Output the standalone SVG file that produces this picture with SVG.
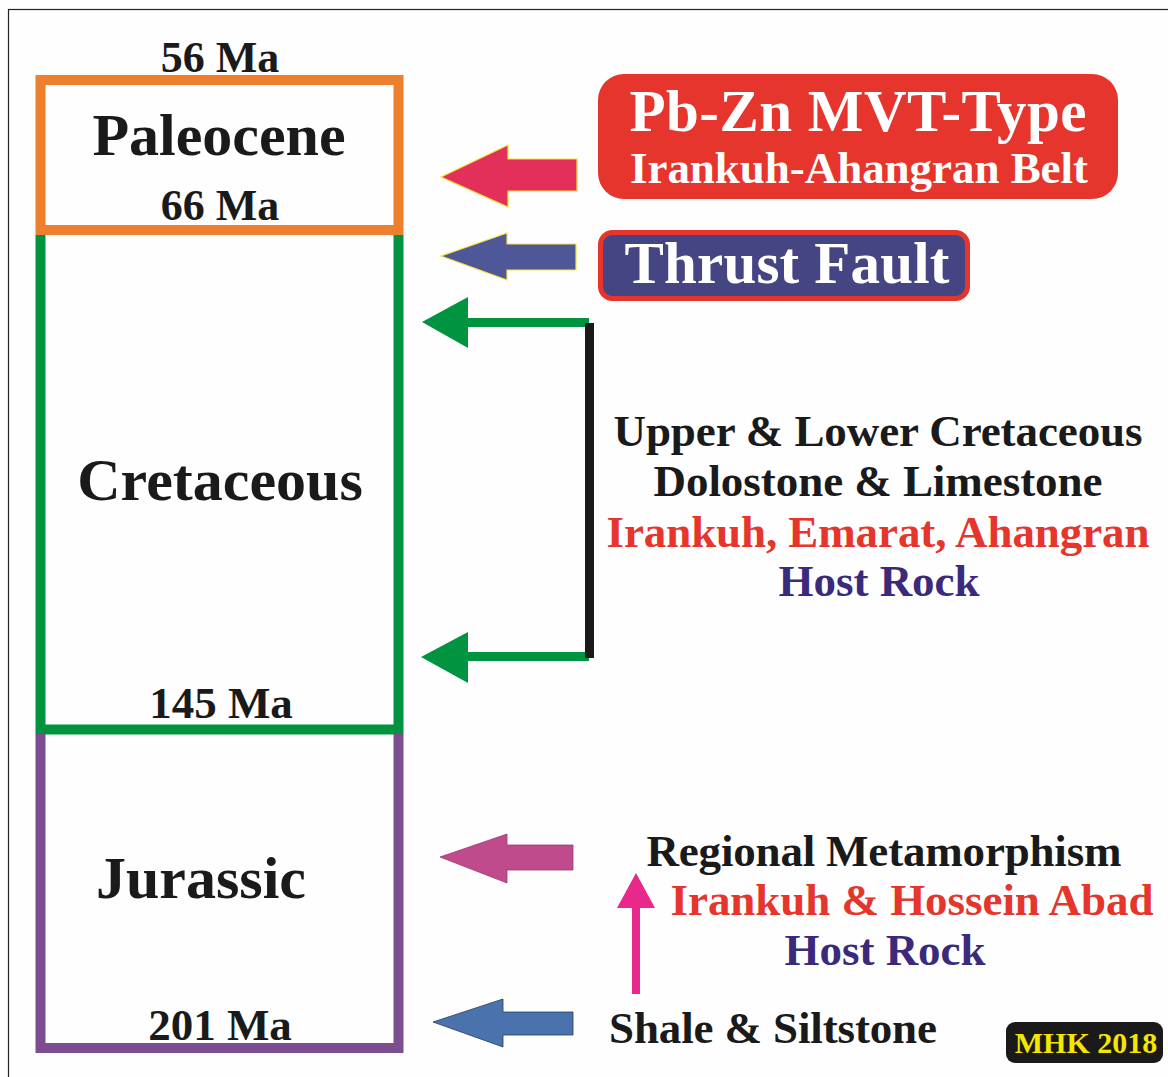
<svg xmlns="http://www.w3.org/2000/svg" width="1168" height="1077" viewBox="0 0 1168 1077">
<style>
text{font-family:"Liberation Serif","Times New Roman",serif;font-weight:bold;}
.blk{fill:#1a1a1a;}
.red{fill:#e5352c;}
.pur{fill:#3b2a7c;}
.mid{text-anchor:middle;}
</style>
<rect x="0" y="0" width="1168" height="1077" fill="#fefefe"/>
<rect x="8.5" y="9.5" width="1170" height="1080" fill="none" stroke="#222" stroke-width="1.2"/>
<g id="periods">
<g id="paleocene">
<path d="M40.5 235 V80 H398.5 V235" fill="none" stroke="#ee7f2f" stroke-width="10"/>
<path d="M36 230 H403" stroke="#ee7f2f" stroke-width="10"/>
<text class="blk mid" x="220" y="72" font-size="44">56 Ma</text>
<text class="blk mid" x="219" y="155" font-size="60">Paleocene</text>
<text class="blk mid" x="220" y="220" font-size="44">66 Ma</text>
</g>
<g id="cretaceous">
<path d="M40.5 235 V729.5 H398.5 V235" fill="none" stroke="#009440" stroke-width="10"/>
<text class="blk mid" x="220" y="500" font-size="60">Cretaceous</text>
<text class="blk mid" x="221" y="718" font-size="45">145 Ma</text>
</g>
<g id="jurassic">
<path d="M40.5 734 V1048 H398.5 V734" fill="none" stroke="#7d4e8f" stroke-width="10"/>
<text class="blk mid" x="201" y="898" font-size="60">Jurassic</text>
<text class="blk mid" x="220" y="1040" font-size="45">201 Ma</text>
</g>
</g>
<g id="connectors">
<polygon points="441,177 508,145 508,159 577,159 577,191 508,191 508,207" fill="#e3305a" stroke="#f5e23a" stroke-width="1.2"/>
<polygon points="441,256 507,233 507,244 576,244 576,270 507,270 507,280" fill="#4e5898" stroke="#f5e23a" stroke-width="1.2"/>
<polygon points="422,322 468,297 468,318 589,318 589,327 468,327 468,348" fill="#009440"/>
<polygon points="421,657 468,632 468,652 589,652 589,661 468,661 468,683" fill="#009440"/>
<rect x="585" y="323" width="9" height="335" fill="#1a1a1a"/>
<polygon points="440,857 507,834 507,845 573,845 573,870 507,870 507,883" fill="#bf4a8c" stroke="#9a3a72" stroke-width="0.8"/>
<polygon points="636,873 655,908 640,908 640,994 632,994 632,908 617,908" fill="#e8288a"/>
<polygon points="433,1022 503,999 503,1012 573,1012 573,1035 503,1035 503,1047" fill="#4a72ac" stroke="#2a3a60" stroke-width="0.8"/>
</g>
<g id="mvt">
<rect x="598" y="74" width="520" height="125" rx="26" fill="#e5352c"/>
<text class="mid" x="858" y="131" font-size="59" fill="#ffffff" textLength="457">Pb-Zn MVT-Type</text>
<text class="mid" x="859" y="183" font-size="45" fill="#ffffff" textLength="458">Irankuh-Ahangran Belt</text>
</g>
<g id="thrust">
<rect x="600.5" y="232.5" width="367" height="66" rx="12" fill="#454584" stroke="#e5352c" stroke-width="5"/>
<text class="mid" x="787" y="283" font-size="59" fill="#ffffff" textLength="325">Thrust Fault</text>
</g>
<g id="hostrock-cretaceous">
<text class="blk mid" x="878" y="446" font-size="45" textLength="529">Upper &amp; Lower Cretaceous</text>
<text class="blk mid" x="878" y="496" font-size="45" textLength="449">Dolostone &amp; Limestone</text>
<text class="red mid" x="878" y="547" font-size="45" textLength="543">Irankuh, Emarat, Ahangran</text>
<text class="pur mid" x="879" y="596" font-size="45">Host Rock</text>
</g>
<g id="metamorphism">
<text class="blk mid" x="884" y="866" font-size="45" textLength="475">Regional Metamorphism</text>
<text class="red mid" x="912" y="915" font-size="45" textLength="483">Irankuh &amp; Hossein Abad</text>
<text class="pur mid" x="885" y="965" font-size="45">Host Rock</text>
</g>
<g id="shale">
<text class="blk" x="609" y="1043" font-size="45" textLength="328">Shale &amp; Siltstone</text>
</g>
<g id="credit">
<rect x="1006" y="1022" width="157" height="41" rx="9" fill="#1a1a1a"/>
<text class="mid" x="1086" y="1053" font-size="30" fill="#f5e600">MHK 2018</text>
</g>
</svg>
